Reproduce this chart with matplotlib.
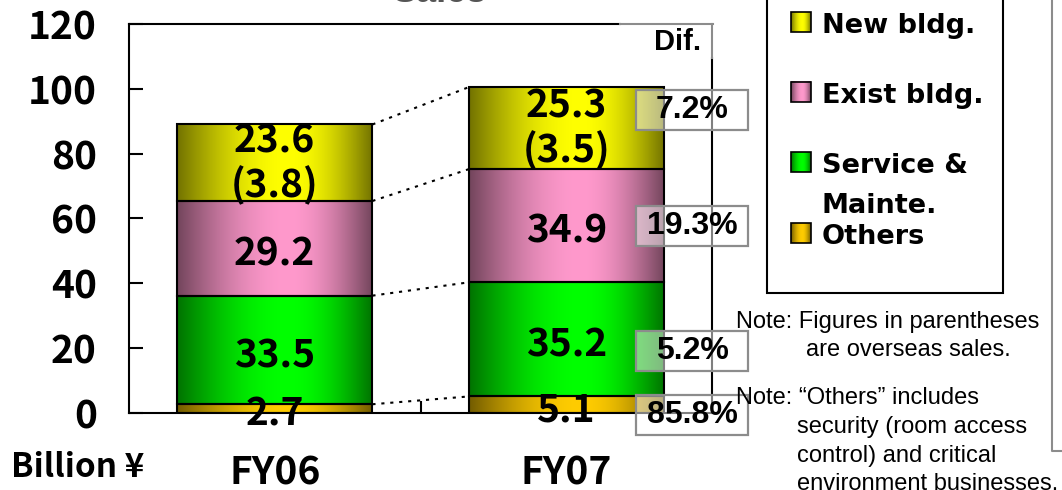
import numpy as np
import matplotlib
matplotlib.use("Agg")
import matplotlib.pyplot as plt
from matplotlib.patches import Rectangle
from matplotlib.colors import to_rgb
from matplotlib.transforms import blended_transform_factory

# ---- data -------------------------------------------------------------
years = ["FY06", "FY07"]
others = [2.7, 5.1]
service = [33.5, 35.2]
exist_bldg = [29.2, 34.9]
new_bldg = [23.6, 25.3]
overseas_new = [3.8, 3.5]
dif_labels = ["85.8%", "5.2%", "19.3%", "7.2%"]   # bottom to top
y_ticks = [0, 20, 40, 60, 80, 100, 120]
legend_names = ["New bldg.", "Exist bldg.", "Service &\nMainte.", "Others"]

seg_colors = ["#ffcc00", "#00ff00", "#ff99cc", "#ffff00"]

W, H = 1062, 490
fig = plt.figure(figsize=(W / 100, H / 100), dpi=100)

# main plotting area in pixel layout
ax_l, ax_r, ax_t, ax_b = 129, 712, 24, 413
ax = fig.add_axes([ax_l / W, 1 - ax_b / H, (ax_r - ax_l) / W, (ax_b - ax_t) / H])

NUM_FONT = ["Noto Sans CJK JP", "DejaVu Sans"]


def gradient_row(hex_color, n=256):
    c = np.array(to_rgb(hex_color))
    t = np.linspace(0, 1, n)
    peak = 0.57
    u = np.where(t < peak, t / peak, (1 - t) / (1 - peak))
    f = np.sin(np.pi / 2 * u)
    k = 0.45 + 0.55 * f
    return (c[None, :] * k[:, None])[None, :, :]


def gradient_fill(axis, x0, x1, y0, y1, color, z=1):
    axis.imshow(gradient_row(color), extent=[x0, x1, y0, y1], aspect="auto",
                interpolation="bilinear", zorder=z, clip_on=False)


series = [others, service, exist_bldg, new_bldg]
x = np.arange(len(years))
bw = 0.67
bottom = np.zeros(len(years))
tops = []
for vals, col in zip(series, seg_colors):
    bars = ax.bar(x, vals, bw, bottom=bottom, facecolor="none",
                  edgecolor="black", linewidth=1.5, zorder=3)
    for p in bars.patches:
        gradient_fill(ax, p.get_x(), p.get_x() + p.get_width(),
                      p.get_y(), p.get_y() + p.get_height(), col, z=2)
    bottom = bottom + np.array(vals)
    tops.append(bottom.copy())

ax.set_xlim(-0.5, 1.5)
ax.set_ylim(0, 120)

# segment value labels
lbl_kw = dict(ha="center", va="center", fontsize=28, fontweight="bold",
              family=NUM_FONT, zorder=5, textcoords="offset points")
bottom = np.zeros(len(years))
for si, vals in enumerate(series):
    for i, v in enumerate(vals):
        yc = bottom[i] + v / 2
        if si == 3:
            ax.annotate(f"{v:.1f}", (x[i], yc), xytext=(0, 16), **lbl_kw)
            ax.annotate(f"({overseas_new[i]:.1f})", (x[i], yc),
                        xytext=(0, -16), **lbl_kw)
        else:
            ax.annotate(f"{v:.1f}", (x[i], yc), xytext=(0, -4), **lbl_kw)
    bottom = bottom + np.array(vals)

# dotted connectors between segment boundaries
for t in tops:
    ax.plot([x[0] + bw / 2, x[1] - bw / 2], [t[0], t[1]], color="black",
            lw=1.5, dashes=(1.5, 2.8), zorder=4)

# axes styling
for s in ["top", "right"]:
    ax.spines[s].set_visible(False)
for s in ["left", "bottom"]:
    ax.spines[s].set_linewidth(1.5)
top_split = (620 - ax_l) / (ax_r - ax_l)
right_split = (ax_b - 58) / (ax_b - ax_t)
ax.plot([0, top_split], [1, 1], transform=ax.transAxes, color="black",
        lw=1.5, clip_on=False, zorder=6)
ax.plot([top_split, 1.002], [1, 1], transform=ax.transAxes, color="#8c8c8c",
        lw=1.5, clip_on=False, zorder=6)
ax.plot([1, 1], [0, right_split], transform=ax.transAxes, color="black",
        lw=1.5, clip_on=False, zorder=6)
ax.plot([1, 1], [right_split, 1], transform=ax.transAxes, color="#8c8c8c",
        lw=1.5, clip_on=False, zorder=6)

ax.set_yticks(y_ticks)
ax.set_yticklabels([str(v) for v in y_ticks], fontsize=28, fontweight="bold",
                   family=NUM_FONT)
ax.tick_params(axis="y", direction="in", length=10, width=1.5, pad=23)
ax.set_xticks([0.5])
ax.set_xticklabels([])
ax.tick_params(axis="x", direction="in", length=9, width=1.5)

# overlay in pixel coordinates for the surrounding annotations
ov = fig.add_axes([0, 0, 1, 1], zorder=10)
ov.axis("off")
ov.patch.set_alpha(0)
ov.set_xlim(0, W)
ov.set_ylim(H, 0)

# category names under the bars
cat_tr = blended_transform_factory(ax.transData, ov.transData)
for xi, name in zip(x, years):
    ax.text(xi, 484, name, transform=cat_tr, ha="center", va="baseline",
            fontsize=28, fontweight="bold", family=NUM_FONT, clip_on=False)

# Dif. column
ax.text(1.3, 114.5, "Dif.", ha="left", va="center", fontsize=21,
        fontweight="bold", family="Liberation Sans", zorder=7, clip_on=False)
box_x0, box_w, box_h = 1.24, 0.385, 12.3
box_centers = [-0.6, 19.0, 57.8, 93.5]
for lab, yc in zip(dif_labels, box_centers):
    ax.add_patch(Rectangle((box_x0, yc - box_h / 2), box_w, box_h,
                           facecolor=(1, 1, 1, 0.5), edgecolor="#8c8c8c",
                           lw=1.6, zorder=7, clip_on=False))
    ax.text(box_x0 + box_w / 2, yc, lab, ha="center", va="center",
            fontsize=23, fontweight="bold", family="Liberation Sans",
            zorder=8, clip_on=False)

ov.text(440, 2, "Sales", ha="center", va="baseline", fontsize=26,
        fontweight="bold", family="Liberation Sans", color="#555555")
ov.text(11, 477, "Billion ¥", ha="left", va="baseline", fontsize=24,
        fontweight="bold", family=NUM_FONT)

# legend
ov.add_patch(Rectangle((767, -5), 236, 298, facecolor="none",
                       edgecolor="black", lw=1.5))
legend_colors = [seg_colors[3], seg_colors[2], seg_colors[1], seg_colors[0]]
legend_tops = [12, 82, 152, 223]
for name, col, ytop in zip(legend_names, legend_colors, legend_tops):
    ov.imshow(gradient_row(col), extent=[791, 811, ytop + 20, ytop],
              aspect="auto", interpolation="bilinear", zorder=2)
    ov.add_patch(Rectangle((791, ytop), 20, 20, facecolor="none",
                           edgecolor="black", lw=1.2, zorder=3))
    for k, line in enumerate(name.split("\n")):
        ov.text(822, ytop + 21 + 40 * k, line, ha="left", va="baseline",
                fontsize=19.5, fontweight="bold", family="DejaVu Sans")

notes = [(736, 328, "Note: Figures in parentheses"),
         (806, 356, "are overseas sales."),
         (736, 404, "Note: \u201cOthers\u201d includes"),
         (797, 433, "security (room access"),
         (797, 462, "control) and critical"),
         (797, 490, "environment businesses.")]
for nx, ny, s in notes:
    ov.text(nx, ny, s, ha="left", va="baseline", fontsize=17,
            family="Liberation Sans")

ov.plot([1052, 1052, 1063], [-2, 451, 451], color="#8c8c8c", lw=1.5)
ov.set_xlim(0, W)
ov.set_ylim(H, 0)

fig.savefig("out.png", dpi=100)
